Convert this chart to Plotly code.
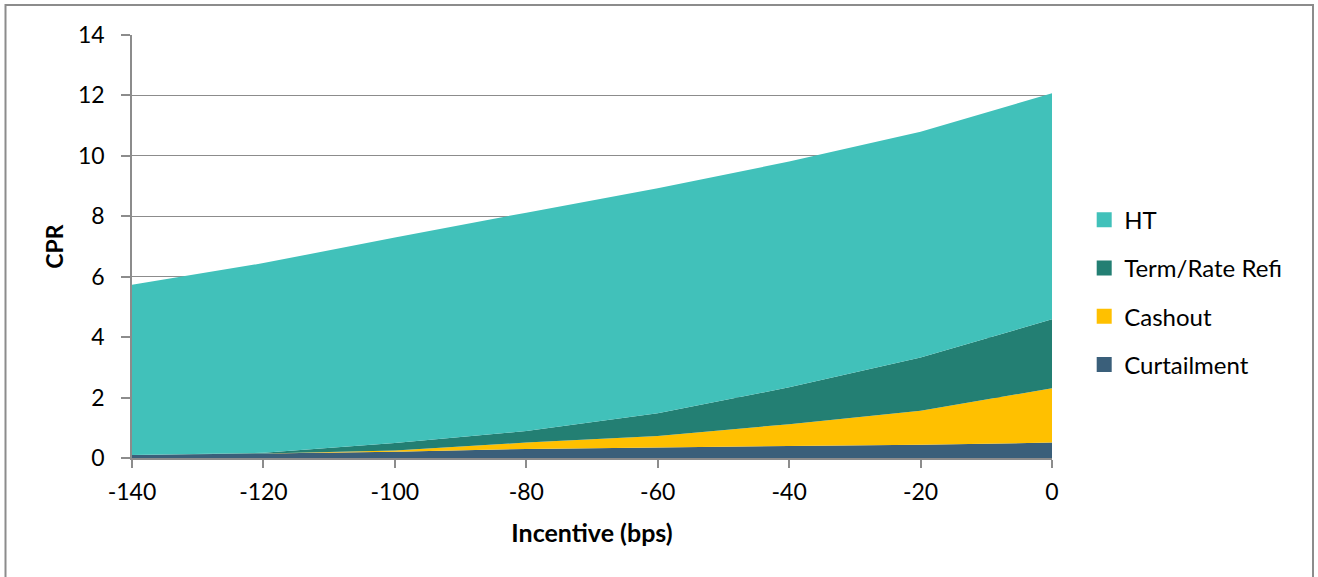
import plotly.graph_objects as go

# Prepayment speed decomposition by refinance incentive
incentive = [-140, -120, -100, -80, -60, -40, -20, 0]
curtailment = [0.10, 0.15, 0.21, 0.30, 0.35, 0.40, 0.44, 0.51]
cashout = [0.00, 0.00, 0.04, 0.21, 0.38, 0.72, 1.12, 1.80]
term_rate_refi = [0.00, 0.02, 0.25, 0.38, 0.75, 1.22, 1.77, 2.28]
ht = [5.63, 6.28, 6.80, 7.23, 7.45, 7.47, 7.47, 7.48]

y_ticks = [0, 2, 4, 6, 8, 10, 12, 14]
x_ticks = [-140, -120, -100, -80, -60, -40, -20, 0]

series = [
    ("Curtailment", curtailment, "#3A5F7A"),
    ("Cashout", cashout, "#FFC000"),
    ("Term/Rate Refi", term_rate_refi, "#237F73"),
    ("HT", ht, "#41C1BA"),
]

FONT = "Lato"
fig = go.Figure()

for name, vals, color in series:
    fig.add_trace(go.Scatter(
        x=incentive, y=vals, name=name, stackgroup="cpr",
        mode="none", fillcolor=color, line=dict(width=0),
        showlegend=False, hoverinfo="x+y+name",
    ))

# legend entries with square swatches, top layer listed first
for rank, (name, vals, color) in enumerate(reversed(series)):
    fig.add_trace(go.Scatter(
        x=[None], y=[None], name=name, mode="markers",
        marker=dict(symbol="square", size=15, color=color),
        legendgroup=name, legendrank=rank + 1, showlegend=True,
    ))

axis_gray = "#8C8C8C"
fig.update_layout(
    width=1318, height=577,
    margin=dict(l=132, r=266, t=35, b=119),
    paper_bgcolor="white", plot_bgcolor="white",
    font=dict(family=FONT, size=23, color="black"),
    showlegend=True,
    legend=dict(
        x=1.035, y=0.392, xanchor="left", yanchor="middle",
        traceorder="grouped", tracegroupgap=14,
        font=dict(family=FONT, size=24, color="black"),
        itemwidth=30, bgcolor="rgba(0,0,0,0)",
    ),
    xaxis=dict(
        range=[-140, 0], tickvals=x_ticks, ticktext=[str(v) for v in x_ticks],
        showgrid=False, zeroline=False, showline=True, linecolor=axis_gray, linewidth=1.5,
        ticks="outside", ticklen=8, tickwidth=1.5, tickcolor=axis_gray,
        ticklabelstandoff=5,
        title=dict(text="<b>Incentive (bps)</b>", font=dict(family=FONT, size=25), standoff=20),
    ),
    yaxis=dict(
        range=[0, 14], tickvals=y_ticks, ticktext=[str(v) for v in y_ticks],
        showgrid=True, gridcolor=axis_gray, gridwidth=1.2,
        zeroline=False, showline=True, linecolor=axis_gray, linewidth=1.5,
        ticks="outside", ticklen=9, tickwidth=1.5, tickcolor=axis_gray,
        ticklabelstandoff=12,
        title=dict(text="<b>CPR</b>", font=dict(family=FONT, size=23), standoff=8),
    ),
    shapes=[dict(
        type="rect", xref="paper", yref="paper",
        x0=-0.1375, x1=1.2837, y0=-0.35, y1=1.0709,
        line=dict(color="#8C8C8C", width=2), fillcolor="rgba(0,0,0,0)", layer="below",
    )],
)

fig.write_html("out.html")
